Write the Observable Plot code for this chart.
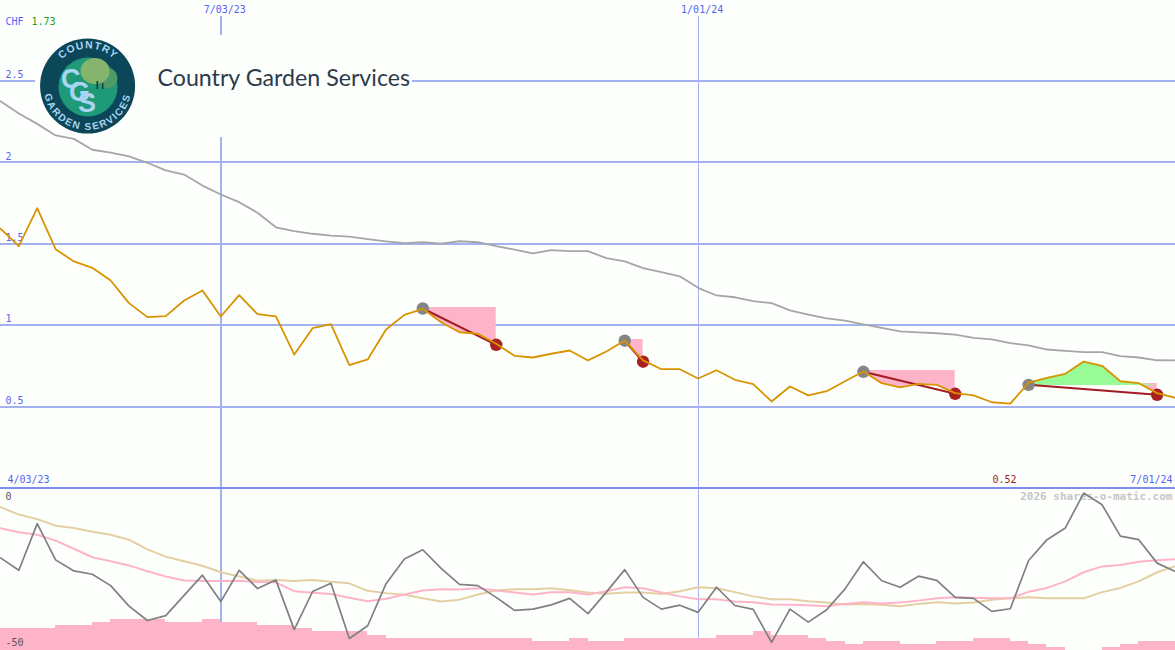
<!DOCTYPE html>
<html>
<head>
<meta charset="utf-8">
<script src="https://cdn.jsdelivr.net/npm/d3@7"></script>
<script src="https://cdn.jsdelivr.net/npm/@observablehq/plot@0.6"></script>
<style>
html,body{margin:0;padding:0;background:#fdfffd;}
#chart{position:relative;width:1175px;height:650px;overflow:hidden;background:#fdfffd;}
#chart svg.plot, #chart > svg{display:block;}
#logo{position:absolute;left:0;top:0;pointer-events:none;}
</style>
</head>
<body>
<div id="chart"></div>
<script>
const titleText = "Country Garden Services";
const currency = "CHF";
const latest = "1.73";
const lowLabel = "0.52";
const watermark = "2026 shares-o-matic.com";
const startLabel = "4/03/23";
const endLabel = "7/01/24";
const priceTicks = [0.5, 1, 1.5, 2, 2.5];
const weekMarks = [12, 38];
const weekLabels = ["7/03/23", "1/01/24"];

const price = [1.592,1.485,1.718,1.466,1.391,1.352,1.274,1.135,1.049,1.055,1.151,1.213,1.053,1.184,1.067,1.053,0.819,0.981,1.006,0.754,0.789,0.973,1.063,1.100,1.018,0.956,0.947,0.885,0.811,0.801,0.824,0.844,0.783,0.838,0.905,0.783,0.729,0.729,0.672,0.723,0.664,0.637,0.531,0.623,0.568,0.594,0.655,0.715,0.643,0.617,0.639,0.633,0.582,0.568,0.526,0.518,0.646,0.676,0.701,0.776,0.750,0.655,0.643,0.582,0.553];
const average = [2.375,2.300,2.236,2.165,2.144,2.077,2.060,2.036,1.997,1.950,1.925,1.857,1.802,1.755,1.690,1.601,1.577,1.561,1.550,1.544,1.528,1.514,1.503,1.509,1.501,1.515,1.509,1.485,1.464,1.440,1.460,1.454,1.454,1.411,1.391,1.350,1.325,1.300,1.229,1.182,1.171,1.147,1.135,1.090,1.065,1.041,1.028,1.004,0.983,0.961,0.955,0.950,0.942,0.922,0.912,0.889,0.875,0.850,0.842,0.834,0.834,0.809,0.801,0.784,0.783];

const tradeOpen = [23, 34, 47, 56];
const tradeClose = [27, 35, 52, 63];
const tradeOpenPrice = [1.102, 0.904, 0.713, 0.633];
const tradeClosePrice = [0.879, 0.775, 0.578, 0.572];
const tradeLossLevel = [1.108, 0.912, 0.721, 0.641];
const tradeGainLevel = [1.108, 0.912, 0.721, 0.629];

const oscillator = [-21.6,-25.4,-11.1,-22.2,-25.6,-26.6,-30.1,-36.4,-40.8,-39.3,-33.1,-26.9,-35.0,-25.4,-31.0,-28.4,-43.6,-31.9,-29.4,-46.3,-42.4,-29.5,-21.9,-19.1,-24.8,-29.7,-30.1,-33.7,-37.7,-37.3,-36.0,-34.0,-38.7,-32.1,-25.2,-33.7,-37.3,-36.1,-38.3,-30.6,-36.2,-37.4,-47.5,-37.3,-41.3,-37.5,-31.1,-22.8,-28.6,-30.6,-27.2,-28.5,-33.7,-34.0,-38.0,-37.2,-22.4,-16.0,-12.4,-1.7,-5.3,-14.9,-16.0,-23.2,-25.8];
const signalFast = [-12.5,-13.7,-14.5,-16.3,-18.8,-21.4,-22.6,-23.9,-25.7,-27.3,-28.5,-28.7,-28.7,-28.6,-29.0,-29.1,-31.8,-32.3,-32.7,-33.8,-34.9,-34.1,-32.8,-31.6,-31.2,-31.3,-30.9,-31.6,-32.2,-32.8,-32.1,-32.1,-32.8,-31.8,-30.6,-30.9,-32.2,-33.4,-34.3,-34.3,-35.0,-35.2,-35.9,-36.0,-36.1,-36.4,-35.7,-35.2,-35.6,-35.3,-34.7,-34.0,-33.7,-33.8,-34.0,-34.0,-32.0,-30.8,-28.8,-26.0,-24.2,-23.8,-22.8,-22.3,-22.0];
const signalSlow = [-6.0,-8.3,-9.7,-11.7,-12.4,-13.6,-14.5,-16.0,-19.0,-21.2,-22.6,-24.0,-26.0,-27.3,-28.6,-28.4,-28.7,-28.4,-28.9,-29.4,-31.7,-32.4,-32.9,-34.0,-35.0,-34.4,-32.8,-31.6,-31.2,-31.2,-30.9,-31.5,-32.2,-32.6,-32.2,-32.2,-32.7,-31.8,-30.6,-30.9,-32.1,-33.4,-34.3,-34.3,-34.9,-35.3,-35.9,-35.7,-36.0,-36.4,-35.7,-35.2,-35.6,-35.3,-34.4,-34.0,-33.7,-34.0,-34.0,-34.0,-32.1,-30.8,-28.8,-26.0,-24.1];
const volumeLevels = [7,7,7,8,8,9,10,10,10,9,9,10,9,9,8,8,7,6,6,6,5,4,4,4,4,4,4,4,4,3,3,4,3,3,4,4,4,4,4,5,5,6,5,5,4,3,2,3,3,2,2,3,3,4,4,3,2,1,0,0,1,2,3,3];

const BG = "#fdfffd", GRID = "#a3b1f1", DIV = "#7c8cef", BLUE = "#5565ee";
const ORANGE = "#d89400", GREY = "#a6a6a6", DARKRED = "#a21c22", PINK = "#fdb4c9", GREEN = "#98fb98";
const MONO = "'DejaVu Sans Mono', 'Liberation Mono', monospace";

const xScale = {domain: [0, 64], range: [0, 1175], axis: null};
const weeks = d3.range(price.length);
const trades = tradeOpen.map((o, t) => ({o, c: tradeClose[t], po: tradeOpenPrice[t], pc: tradeClosePrice[t], loss: tradeLossLevel[t], gain: tradeGainLevel[t]}));
const span = t => weeks.filter(i => i >= t.o && i <= t.c);

const lossAreas = trades.map(t => Plot.areaY(span(t), {x: i => i, y1: () => t.loss, y2: i => Math.min(t.loss, price[i]), fill: PINK}));
const gainAreas = trades.map(t => Plot.areaY(span(t), {x: i => i, y1: () => t.gain, y2: i => Math.max(t.gain, price[i]), fill: GREEN}));

const upperPanel = Plot.plot({
  width: 1175, height: 485,
  marginTop: 0, marginRight: 0, marginBottom: 0, marginLeft: 0,
  style: {background: "transparent", overflow: "visible"},
  x: xScale,
  y: {domain: [0, 3], range: [487.4, -1], axis: null},
  marks: [
    Plot.ruleY(priceTicks, {stroke: GRID, strokeWidth: 2, shapeRendering: "crispEdges"}),
    Plot.ruleX([weekMarks[0]], {y1: () => 0, y2: () => 2.895, stroke: GRID, strokeWidth: 2, shapeRendering: "crispEdges"}),
    Plot.ruleX([weekMarks[1]], {y1: () => 0, y2: () => 2.895, stroke: GRID, strokeWidth: 1, shapeRendering: "crispEdges"}),
    Plot.rect([titleText], {x1: () => 1.906, x2: () => 22.44, y1: () => 2.152, y2: () => 2.779, fill: BG}),
    Plot.axisY(priceTicks, {anchor: "left", tickSize: 0, tickPadding: -5, textAnchor: "start", dy: -6, label: null, fill: BLUE, fontSize: 10, fontFamily: MONO, tickFormat: d => String(d)}),
    Plot.text(weekMarks, {x: i => i, text: (d, i) => weekLabels[i], frameAnchor: "top", dy: 5, dx: 4, fill: BLUE, fontSize: 10, fontFamily: MONO}),
    Plot.text([currency], {frameAnchor: "top-left", dx: 5, dy: 17, fill: BLUE, fontSize: 10, fontFamily: MONO}),
    Plot.text([latest], {frameAnchor: "top-left", dx: 31, dy: 17, fill: "#22a022", fontSize: 10, fontFamily: MONO}),
    Plot.text([startLabel], {frameAnchor: "bottom-left", dx: 7, dy: -3, fill: BLUE, fontSize: 10, fontFamily: MONO}),
    Plot.text([endLabel], {frameAnchor: "bottom-right", dx: -3, dy: -3, fill: BLUE, fontSize: 10, fontFamily: MONO}),
    Plot.text([lowLabel], {frameAnchor: "bottom-left", dx: 992, dy: -3, fill: DARKRED, fontSize: 10, fontFamily: MONO}),
    Plot.text([titleText], {frameAnchor: "top-left", dx: 157, dy: 69, fill: "#2c3a4a", fontSize: 23.2, fontFamily: "Lato, sans-serif"}),
    Plot.line(weeks, {x: i => i, y: i => average[i], stroke: GREY, strokeWidth: 1.8}),
    ...lossAreas,
    ...gainAreas,
    Plot.link(trades, {x1: "o", y1: "po", x2: "c", y2: "pc", stroke: DARKRED, strokeWidth: 2}),
    Plot.dot(trades, {x: "o", y: "po", r: 6.2, fill: "#858585"}),
    Plot.dot(trades, {x: "c", y: "pc", r: 6.2, fill: "#a8201f"}),
    Plot.line(weeks, {x: i => i, y: i => price[i], stroke: ORANGE, strokeWidth: 1.8})
  ]
});

const lowerPanel = Plot.plot({
  width: 1175, height: 165,
  marginTop: 0, marginRight: 0, marginBottom: 0, marginLeft: 0,
  style: {background: "transparent"},
  x: xScale,
  y: {domain: [-50, 0], range: [165, 2], axis: null},
  marks: [
    Plot.ruleX([weekMarks[0]], {stroke: GRID, strokeWidth: 2, shapeRendering: "crispEdges"}),
    Plot.ruleX([weekMarks[1]], {stroke: GRID, strokeWidth: 1, shapeRendering: "crispEdges"}),
    Plot.rect(volumeLevels, {x1: (d, i) => i, x2: (d, i) => i + 1, y1: () => -50, y2: d => -50 + d * 0.95, fill: PINK, shapeRendering: "crispEdges"}),
    Plot.ruleY([0], {stroke: DIV, strokeWidth: 2, shapeRendering: "crispEdges"}),
    Plot.text([watermark], {frameAnchor: "top-right", dx: -3, dy: 7, fill: "#c6c6c6", fontSize: 11, fontWeight: "bold", fontFamily: MONO}),
    Plot.text(["0"], {frameAnchor: "top-left", dx: 5, dy: 7, fill: "#555555", fontSize: 10, fontFamily: MONO}),
    Plot.text(["-50"], {frameAnchor: "bottom-left", dx: 5, dy: -5, fill: "#555555", fontSize: 10, fontFamily: MONO}),
    Plot.line(weeks, {x: i => i, y: i => signalSlow[i], stroke: "#e4cfa2", strokeWidth: 2}),
    Plot.line(weeks, {x: i => i, y: i => signalFast[i], stroke: "#fdb4c9", strokeWidth: 2}),
    Plot.line(weeks, {x: i => i, y: i => oscillator[i], stroke: "#808080", strokeWidth: 1.7})
  ]
});

const chartBox = document.getElementById("chart");
chartBox.appendChild(upperPanel);
chartBox.appendChild(lowerPanel);

const NS = "http://www.w3.org/2000/svg";
const logoWrap = document.createElement("div");
logoWrap.innerHTML = `<svg id="logo" xmlns="${NS}" width="1175" height="650" viewBox="0 0 1175 650">
  <defs>
    <path id="arcTop" d="M 50.5 86 A 37.5 37.5 0 0 1 125.5 86"/>
    <path id="arcBottom" d="M 43.6 86 A 44 44 0 0 0 131.6 86"/>
  </defs>
  <circle cx="87.6" cy="86" r="47.5" fill="#0c4659"/>
  <circle cx="88" cy="87" r="29.5" fill="#1f9a78"/>
  <ellipse cx="108" cy="78" rx="9.5" ry="10" fill="#4f9b68"/>
  <ellipse cx="95" cy="71" rx="14.5" ry="13" fill="#85b56c"/>
  <rect x="96.5" y="81" width="1.6" height="8" fill="#1c3a30"/>
  <rect x="102" y="83" width="1.4" height="6" fill="#1c3a30"/>
  <g font-family="Liberation Sans, Arial, sans-serif" font-weight="bold" fill="#a9d5f2">
    <text font-size="27" x="61 69 78" y="88 101 112">CGS</text>
    <g text-anchor="middle">
      <text font-size="10.5" letter-spacing="1"><textPath href="#arcTop" startOffset="50%">COUNTRY</textPath></text>
      <text font-size="10" letter-spacing="1.6"><textPath href="#arcBottom" startOffset="50%">GARDEN SERVICES</textPath></text>
    </g>
  </g>
</svg>`;
chartBox.appendChild(logoWrap.firstElementChild);
</script>
</body>
</html>
